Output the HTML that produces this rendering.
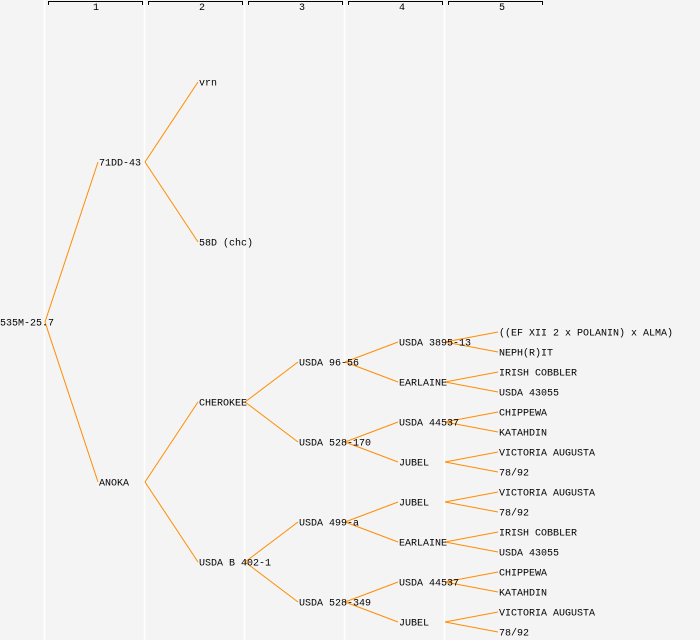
<!DOCTYPE html>
<html><head><meta charset="utf-8"><style>
body{margin:0;background:#f4f4f4}
svg{display:block}
text{font-family:"Liberation Mono",monospace;font-size:10px;fill:#000}
</style></head><body>
<svg width="700" height="640" xmlns="http://www.w3.org/2000/svg">
<rect width="700" height="640" fill="#f4f4f4"/>
<g stroke="#fff" stroke-width="1.5">
<line x1="44.5" y1="0" x2="44.5" y2="640"/><line x1="144.5" y1="0" x2="144.5" y2="640"/><line x1="244.5" y1="0" x2="244.5" y2="640"/><line x1="344.5" y1="0" x2="344.5" y2="640"/><line x1="444.5" y1="0" x2="444.5" y2="640"/>
</g>
<g stroke="#000" fill="none" stroke-width="1">
<path d="M48.5,5V1.5H142.5V5"/><path d="M148.5,5V1.5H242.5V5"/><path d="M248.5,5V1.5H342.5V5"/><path d="M348.5,5V1.5H442.5V5"/><path d="M448.5,5V1.5H542.5V5"/>
</g>
<g style="font-size:8px" text-anchor="middle"><text x="96" y="10">1</text><text x="202" y="10">2</text><text x="302" y="10">3</text><text x="402" y="10">4</text><text x="502" y="10">5</text></g>
<g stroke="#ff8c00" stroke-width="1" fill="none">
<path d="M45,322L98,162M45,322L98,482"/>
<path d="M145,162L198,82M145,162L198,242M145,482L198,402M145,482L198,562"/>
<path d="M245,402L298,362M245,402L298,442M245,562L298,522M245,562L298,602"/>
<path d="M345,362L398,342M345,362L398,382M345,442L398,422M345,442L398,462M345,522L398,502M345,522L398,542M345,602L398,582M345,602L398,622"/>
<path d="M445,342L498,332M445,342L498,352M445,382L498,372M445,382L498,392M445,422L498,412M445,422L498,432M445,462L498,452M445,462L498,472M445,502L498,492M445,502L498,512M445,542L498,532M445,542L498,552M445,582L498,572M445,582L498,592M445,622L498,612M445,622L498,632"/>
</g>
<g dominant-baseline="central" transform="translate(0,2)">
<text x="0" y="322">535M-25.7</text>
<text x="99" y="162">71DD-43</text><text x="99" y="482">ANOKA</text>
<text x="199" y="82">vrn</text><text x="199" y="242">58D (chc)</text><text x="199" y="402">CHEROKEE</text><text x="199" y="562">USDA B 402-1</text>
<text x="299" y="362">USDA 96-56</text><text x="299" y="442">USDA 528-170</text><text x="299" y="522">USDA 499-a</text><text x="299" y="602">USDA 528-349</text>
<text x="399" y="342">USDA 3895-13</text><text x="399" y="382">EARLAINE</text><text x="399" y="422">USDA 44537</text><text x="399" y="462">JUBEL</text><text x="399" y="502">JUBEL</text><text x="399" y="542">EARLAINE</text><text x="399" y="582">USDA 44537</text><text x="399" y="622">JUBEL</text>
<text x="499" y="332">((EF XII 2 x POLANIN) x ALMA)</text><text x="499" y="352">NEPH(R)IT</text><text x="499" y="372">IRISH COBBLER</text><text x="499" y="392">USDA 43055</text><text x="499" y="412">CHIPPEWA</text><text x="499" y="432">KATAHDIN</text><text x="499" y="452">VICTORIA AUGUSTA</text><text x="499" y="472">78/92</text><text x="499" y="492">VICTORIA AUGUSTA</text><text x="499" y="512">78/92</text><text x="499" y="532">IRISH COBBLER</text><text x="499" y="552">USDA 43055</text><text x="499" y="572">CHIPPEWA</text><text x="499" y="592">KATAHDIN</text><text x="499" y="612">VICTORIA AUGUSTA</text><text x="499" y="632">78/92</text>
</g>
</svg>
</body></html>
